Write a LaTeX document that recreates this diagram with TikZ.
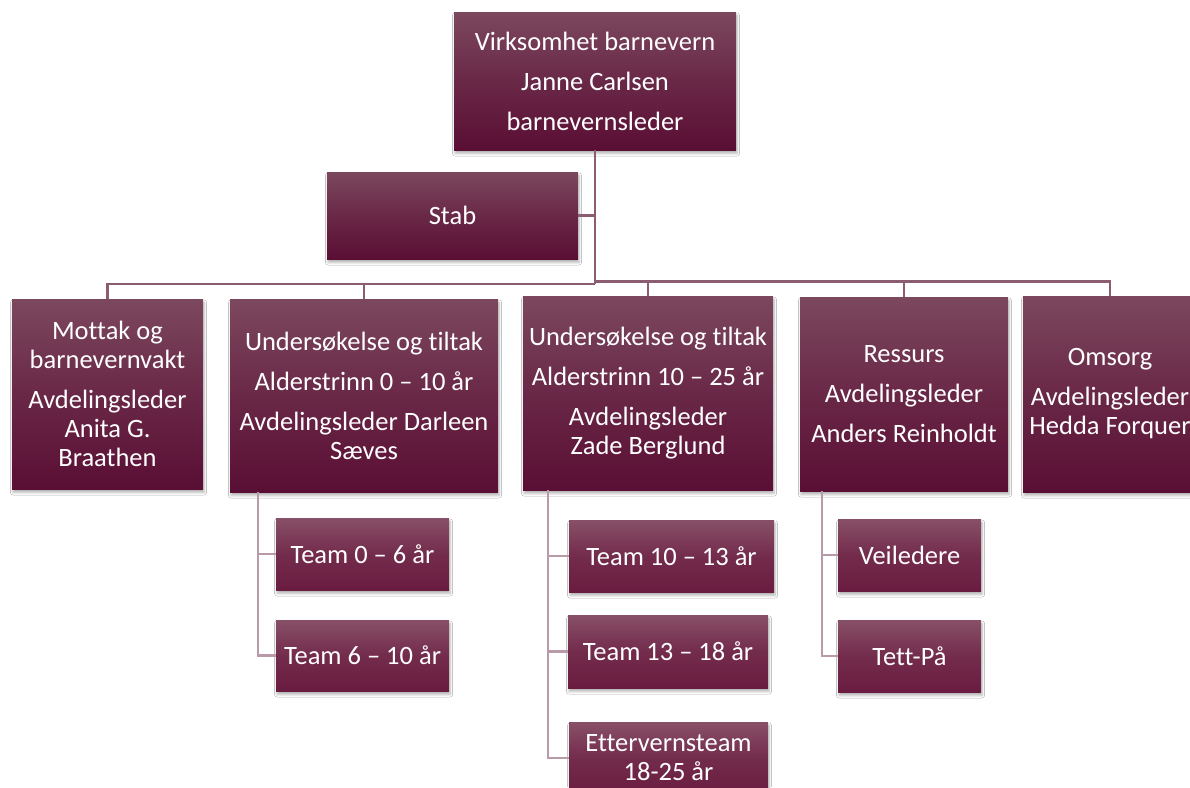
\documentclass[tikz,border=0pt]{standalone}
\usepackage{fontspec}
\setmainfont{Carlito}[Ligatures={NoCommon}]
\usetikzlibrary{shadows.blur}
\definecolor{mtop}{RGB}{124,72,94}
\definecolor{mbot}{RGB}{90,14,52}
\definecolor{ttop}{RGB}{136,80,104}
\definecolor{tbot}{RGB}{106,28,64}
\definecolor{mainline}{RGB}{140,92,112}
\definecolor{subline}{RGB}{184,154,168}
\tikzset{
  box/.style={rectangle, inner sep=0pt, align=center, text=white,
    font=\fontsize{26.5}{29}\selectfont,
    top color=mtop, bottom color=mbot, middle color={mtop!45!mbot},
    blur shadow={shadow blur steps=5, shadow xshift=1pt, shadow yshift=-3.5pt, shadow opacity=30, shadow blur radius=2.5pt}},
  teambox/.style={box, top color=ttop, bottom color=tbot, middle color={ttop!30!tbot}},
  mainconn/.style={draw=mainline, line width=2.5pt},
  subconn/.style={draw=subline, line width=2.5pt},
}
\begin{document}
\begin{tikzpicture}[x=1pt,y=-1pt]
\useasboundingbox (0,0) rectangle (1190,787);
\fill[white] (0,0) rectangle (1190,787);
\clip (0,0) rectangle (1190,787);

\coordinate (jL) at (595,284);
\coordinate (jR) at (595,281.5);
\coordinate (s1) at (258,0);
\coordinate (s2) at (548,0);
\coordinate (s3) at (822,0);

\node[box, minimum width=282pt, minimum height=138pt] (top) at (595,81)
  {Virksomhet barnevern\\[11pt]Janne Carlsen\\[11pt]barnevernsleder};
\node[box, minimum width=251pt, minimum height=87pt] (stab) at (452.5,215.5) {Stab};

\draw[mainconn] (top.south) -- (jL);
\draw[mainconn] (stab.east) -- (stab.east -| jL);
\draw[mainconn] (jL) -| (107.5,300);
\draw[mainconn] (jL) -| (364,300);
\draw[mainconn] (jR) -| (648,297);
\draw[mainconn] (jR) -| (904,298);
\draw[mainconn] (jR) -| (1110,297);

\node[box, minimum width=191pt, minimum height=190pt] (mottak) at (107.5,394)
  {Mottak og\\barnevernvakt\\[11pt]Avdelingsleder\\Anita G.\\Braathen};
\node[box, minimum width=268pt, minimum height=193pt] (und1) at (364,395.5)
  {Undersøkelse og tiltak\\[11pt]Alderstrinn 0 – 10 år\\[11pt]Avdelingsleder Darleen\\Sæves};
\node[box, minimum width=250pt, minimum height=194pt] (und2) at (648,393)
  {Undersøkelse og tiltak\\[11pt]Alderstrinn 10 – 25 år\\[11pt]Avdelingsleder\\Zade Berglund};
\node[box, minimum width=208pt, minimum height=194pt] (ressurs) at (904,394)
  {Ressurs\\[11pt]Avdelingsleder\\[11pt]Anders Reinholdt};
\node[box, minimum width=174pt, minimum height=196pt] (omsorg) at (1110,394)
  {Omsorg\\[11pt]Avdelingsleder\\Hedda Forquer};

\node[teambox, minimum width=173pt, minimum height=72pt] (t06) at (362.5,554) {Team 0 – 6 år};
\node[teambox, minimum width=173pt, minimum height=71pt] (t610) at (362.5,655.5) {Team 6 – 10 år};
\node[teambox, minimum width=205pt, minimum height=72pt] (t1013) at (671.5,556) {Team 10 – 13 år};
\node[teambox, minimum width=200pt, minimum height=73pt] (t1318) at (668,651.5) {Team 13 – 18 år};
\node[teambox, minimum width=199pt, minimum height=72pt] (etter) at (668.5,758) {Ettervernsteam\\18-25 år};
\node[teambox, minimum width=143pt, minimum height=72pt] (veil) at (909.5,555) {Veiledere};
\node[teambox, minimum width=143pt, minimum height=72pt] (tett) at (909.5,656) {Tett-På};

\draw[subconn] (und1.south -| s1) |- (t610.west);
\draw[subconn] (s1 |- t06.west) -- (t06.west);
\draw[subconn] (und2.south -| s2) |- (etter.west);
\draw[subconn] (s2 |- t1013.west) -- (t1013.west);
\draw[subconn] (s2 |- t1318.west) -- (t1318.west);
\draw[subconn] (ressurs.south -| s3) |- (tett.west);
\draw[subconn] (s3 |- veil.west) -- (veil.west);
\end{tikzpicture}
\end{document}
